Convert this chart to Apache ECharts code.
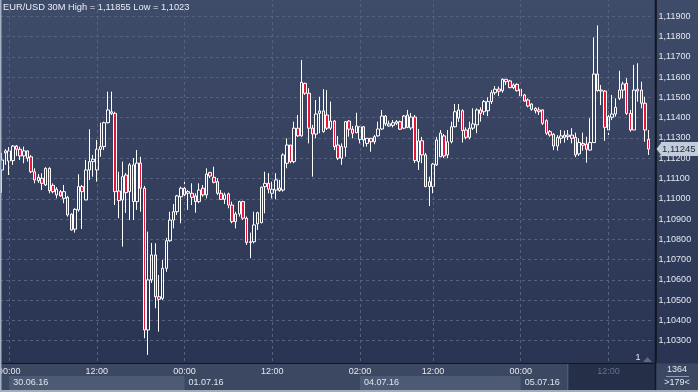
<!DOCTYPE html>
<html><head><meta charset="utf-8">
<script src="https://cdn.jsdelivr.net/npm/echarts@6/dist/echarts.min.js"></script>
<style>html,body{margin:0;padding:0;background:#2f3a57;}#c{width:698px;height:392px;}</style>
</head><body><div id="c"></div>
<script>
const symbolName = 'EUR/USD 30M';
// trading sessions: [date, first bar time, number of 30-min bars]
const sessions = [['29.06.16','23:00',2],['30.06.16','00:00',48],['01.07.16','00:00',48],['04.07.16','02:00',44],['05.07.16','00:00',37]];
const opens = [1.11142,1.11226,1.11186,1.11188,1.11260,1.11244,1.11211,1.11236,1.11207,1.11133,
1.11089,1.11101,1.11068,1.11150,1.11066,1.11019,1.11035,1.11002,1.11007,1.10924,
1.10850,1.10945,1.11060,1.10994,1.11142,1.11183,1.11142,1.11244,1.11257,1.11375,
1.11429,1.11421,1.11038,1.10994,1.11117,1.11035,1.10986,1.10986,1.11176,1.11052,
1.10353,1.10600,1.10723,1.10517,1.10509,1.10657,1.10793,1.10895,1.10936,1.11010,
1.11052,1.11027,1.11027,1.11014,1.10986,1.11052,1.11019,1.11129,1.11106,1.11084,
1.11027,1.10997,1.11024,1.10969,1.10887,1.10925,1.10986,1.10904,1.10784,1.10788,
1.10876,1.10882,1.11060,1.11076,1.11027,1.11043,1.11053,1.11043,1.11175,1.11265,
1.11183,1.11348,1.11310,1.11569,1.11520,1.11348,1.11319,1.11433,1.11331,1.11413,
1.11348,1.11383,1.11265,1.11200,1.11254,1.11383,1.11343,1.11326,1.11293,1.11355,
1.11273,1.11298,1.11281,1.11310,1.11344,1.11408,1.11359,1.11362,1.11372,1.11380,
1.11348,1.11413,1.11349,1.11403,1.11183,1.11286,1.11216,1.11060,1.11060,1.11167,
1.11207,1.11310,1.11216,1.11281,1.11355,1.11398,1.11434,1.11339,1.11303,1.11348,
1.11364,1.11438,1.11429,1.11434,1.11479,1.11523,1.11541,1.11533,1.11589,1.11581,
1.11548,1.11564,1.11540,1.11512,1.11487,1.11467,1.11446,1.11438,1.11438,1.11385,
1.11331,1.11318,1.11260,1.11298,1.11303,1.11306,1.11314,1.11303,1.11221,1.11273,
1.11270,1.11240,1.11277,1.11615,1.11531,1.11531,1.11339,1.11402,1.11418,1.11495,
1.11536,1.11569,1.11421,1.11339,1.11531,1.11536,1.11471,1.11293];
const closes = [1.11191,1.11236,1.11236,1.11260,1.11244,1.11211,1.11236,1.11200,1.11133,1.11093,
1.11106,1.11076,1.11150,1.11040,1.11035,1.11047,1.11014,1.11035,1.10920,1.10846,
1.10948,1.11060,1.11035,1.11142,1.11183,1.11195,1.11244,1.11257,1.11375,1.11438,
1.11421,1.11035,1.10991,1.11109,1.11030,1.11167,1.11167,1.11176,1.11052,1.10353,
1.10600,1.10723,1.10517,1.10504,1.10657,1.10793,1.10895,1.10936,1.11014,1.11052,
1.11019,1.11035,1.11007,1.10986,1.11043,1.11019,1.11122,1.11112,1.11081,1.11027,
1.10997,1.11019,1.10969,1.10887,1.10925,1.10986,1.10904,1.10784,1.10788,1.10871,
1.10931,1.11057,1.11076,1.11047,1.11047,1.11093,1.11040,1.11216,1.11265,1.11183,
1.11348,1.11310,1.11574,1.11520,1.11348,1.11319,1.11418,1.11421,1.11433,1.11348,
1.11383,1.11257,1.11200,1.11257,1.11380,1.11343,1.11323,1.11359,1.11355,1.11290,
1.11298,1.11281,1.11306,1.11344,1.11408,1.11369,1.11369,1.11375,1.11380,1.11343,
1.11408,1.11352,1.11403,1.11188,1.11285,1.11216,1.11060,1.11084,1.11171,1.11290,
1.11324,1.11211,1.11281,1.11355,1.11429,1.11438,1.11336,1.11303,1.11348,1.11369,
1.11438,1.11421,1.11479,1.11479,1.11523,1.11540,1.11530,1.11589,1.11577,1.11548,
1.11561,1.11533,1.11507,1.11482,1.11457,1.11441,1.11434,1.11429,1.11372,1.11323,
1.11314,1.11260,1.11303,1.11310,1.11314,1.11314,1.11298,1.11216,1.11277,1.11264,
1.11244,1.11277,1.11615,1.11533,1.11536,1.11352,1.11405,1.11418,1.11451,1.11536,
1.11566,1.11421,1.11339,1.11536,1.11540,1.11471,1.11339,1.11245];
const highs = [1.11226,1.11245,1.11255,1.11265,1.11265,1.11257,1.11257,1.11236,1.11216,1.11150,
1.11122,1.11126,1.11155,1.11155,1.11076,1.11057,1.11043,1.11068,1.11014,1.10928,
1.10953,1.11121,1.11068,1.11191,1.11343,1.11216,1.11290,1.11375,1.11380,1.11528,
1.11528,1.11429,1.11133,1.11183,1.11127,1.11176,1.11201,1.11240,1.11207,1.11063,
1.10838,1.10782,1.10781,1.10624,1.10698,1.10807,1.10936,1.10974,1.11019,1.11060,
1.11084,1.11043,1.11076,1.11027,1.11076,1.11068,1.11150,1.11133,1.11158,1.11101,
1.11043,1.11030,1.11030,1.10986,1.10936,1.10990,1.10990,1.10912,1.10833,1.10936,
1.10936,1.11060,1.11133,1.11126,1.11084,1.11126,1.11093,1.11224,1.11298,1.11265,
1.11380,1.11413,1.11684,1.11572,1.11545,1.11364,1.11487,1.11503,1.11540,1.11536,
1.11479,1.11388,1.11310,1.11273,1.11383,1.11388,1.11359,1.11424,1.11355,1.11359,
1.11298,1.11298,1.11314,1.11380,1.11438,1.11413,1.11385,1.11388,1.11388,1.11385,
1.11413,1.11438,1.11423,1.11413,1.11344,1.11305,1.11226,1.11109,1.11176,1.11305,
1.11339,1.11319,1.11339,1.11380,1.11467,1.11467,1.11441,1.11352,1.11380,1.11446,
1.11446,1.11451,1.11487,1.11500,1.11536,1.11556,1.11553,1.11594,1.11589,1.11586,
1.11569,1.11569,1.11545,1.11517,1.11495,1.11471,1.11451,1.11451,1.11441,1.11392,
1.11339,1.11323,1.11314,1.11339,1.11336,1.11339,1.11348,1.11326,1.11298,1.11326,
1.11306,1.11397,1.11796,1.11855,1.11561,1.11536,1.11429,1.11512,1.11495,1.11631,
1.11577,1.11595,1.11438,1.11660,1.11668,1.11577,1.11503,1.11339];
const lows = [1.11029,1.11167,1.11117,1.11167,1.11211,1.11191,1.11175,1.11183,1.11126,1.11076,
1.11078,1.11043,1.11063,1.11027,1.11027,1.11002,1.11010,1.10978,1.10912,1.10843,
1.10833,1.10936,1.10851,1.10994,1.11093,1.11109,1.11084,1.11207,1.11240,1.11372,
1.11413,1.10969,1.10904,1.10764,1.10930,1.10895,1.10895,1.10945,1.10936,1.10312,
1.10230,1.10585,1.10460,1.10345,1.10501,1.10640,1.10788,1.10854,1.10920,1.10879,
1.11010,1.10945,1.10969,1.10931,1.10978,1.11010,1.11002,1.11101,1.11076,1.11019,
1.10994,1.10974,1.10953,1.10879,1.10854,1.10912,1.10895,1.10772,1.10707,1.10780,
1.10846,1.10879,1.10928,1.11027,1.11002,1.10997,1.11035,1.11035,1.11150,1.11175,
1.11175,1.11306,1.11306,1.11512,1.11273,1.11109,1.11298,1.11323,1.11326,1.11339,
1.11339,1.11240,1.11191,1.11167,1.11207,1.11306,1.11298,1.11323,1.11273,1.11257,
1.11257,1.11232,1.11269,1.11306,1.11339,1.11359,1.11355,1.11352,1.11364,1.11339,
1.11343,1.11348,1.11339,1.11176,1.11142,1.11175,1.11057,1.10964,1.11027,1.11162,
1.11206,1.11201,1.11200,1.11273,1.11352,1.11379,1.11277,1.11293,1.11293,1.11339,
1.11323,1.11380,1.11413,1.11408,1.11467,1.11512,1.11507,1.11523,1.11561,1.11545,
1.11540,1.11528,1.11500,1.11479,1.11451,1.11434,1.11421,1.11413,1.11364,1.11314,
1.11306,1.11240,1.11237,1.11273,1.11277,1.11290,1.11273,1.11205,1.11211,1.11237,
1.11178,1.11237,1.11277,1.11528,1.11462,1.11286,1.11314,1.11388,1.11405,1.11487,
1.11495,1.11413,1.11331,1.11339,1.11479,1.11446,1.11281,1.11216];
const tickTimes = ['30.06.16 00:00','30.06.16 12:00','01.07.16 00:00','01.07.16 12:00','04.07.16 02:00','04.07.16 12:00','05.07.16 00:00','05.07.16 12:00'];
const dateStarts = ['30.06.16 00:00','01.07.16 00:00','04.07.16 02:00','05.07.16 00:00'];
const shadedDates = ['30.06.16 00:00','04.07.16 02:00'];
const highlightFrom = '05.07.16 06:30';
const totalBars = '1364';
const markerText = '1';

const categories = [];
sessions.forEach(([d, start, n]) => {
  const p = start.split(':').map(Number);
  const m0 = p[0] * 60 + p[1];
  for (let k = 0; k < n; k++) {
    const t = m0 + 30 * k;
    categories.push(d + ' ' + String(Math.floor(t / 60)).padStart(2, '0') + ':' + String(t % 60).padStart(2, '0'));
  }
});
const ohlc = opens.map((o, i) => [o, closes[i], lows[i], highs[i]]);
const lastClose = closes[closes.length - 1];
const fmt = v => v.toFixed(5).replace('.', ',');
const maxHigh = Math.max(...highs), minLow = Math.min(...lows);
const titleText = symbolName + ' High = ' + String(maxHigh).replace('.', ',') + ' Low = ' + String(minLow).replace('.', ',');
const tickSet = new Set(tickTimes), dateSet = new Set(dateStarts);
const hiIdx = categories.indexOf(highlightFrom);

const FONT = 'Liberation Sans';
const chart = echarts.init(document.getElementById('c'), null, {renderer: 'canvas'});
const gridLine = {color: '#55627e', type: [3, 3], width: 1};
chart.setOption({
  animation: false,
  backgroundColor: {type: 'linear', x: 0, y: 0, x2: 0, y2: 1, colorStops: [{offset: 0, color: '#3e4b69'}, {offset: 1, color: '#283250'}]},
  textStyle: {fontFamily: FONT},
  title: {text: titleText, left: 3, top: 3, padding: 0, textStyle: {fontSize: 9.3, fontWeight: 'normal', color: '#e8edf5', fontFamily: FONT}},
  grid: {left: 0, right: 43.9, top: 0, bottom: 31, outerBoundsMode: 'none', containLabel: false},
  xAxis: [
    {type: 'category', data: categories, boundaryGap: true, offset: 2,
     axisLine: {show: true, lineStyle: {color: '#11161f', width: 1}}, axisTick: {show: false}, splitLine: {show: false},
     axisLabel: {interval: (i, v) => tickSet.has(v), formatter: v => v.split(' ')[1], fontSize: 9, margin: 4,
       color: (v) => categories.indexOf(v) >= hiIdx ? '#66728c' : '#e2e8f0', fontFamily: FONT}},
    {type: 'category', data: categories, boundaryGap: true, position: 'bottom', offset: 2,
     axisLine: {show: false}, axisTick: {show: false}, splitLine: {show: false},
     axisLabel: {interval: (i, v) => dateSet.has(v), formatter: v => v.split(' ')[0], fontSize: 9, margin: 15,
       align: 'left', padding: [0, 0, 0, 4], color: '#dfe5ee', fontFamily: FONT}}
  ],
  yAxis: {type: 'value', position: 'right', min: 1.102, max: 1.1198, interval: 0.001, offset: 1.5,
    axisLine: {show: true, lineStyle: {color: '#11161f', width: 1.5}}, axisTick: {show: false},
    splitLine: {show: true, lineStyle: gridLine, showMinLine: false, showMaxLine: false},
    axisLabel: {formatter: fmt, fontSize: 9, margin: 3, color: '#e2e8f0', showMinLabel: false, showMaxLabel: false, fontFamily: FONT}},
  series: [{
    type: 'candlestick', data: ohlc, barWidth: 3, silent: true,
    itemStyle: {color: 'rgba(0,0,0,0)', color0: '#e3173b', borderColor: '#ffffff', borderColor0: '#ffffff', borderWidth: 1},
    markLine: {silent: true, symbol: 'none', animation: false,
      data: tickTimes.map(t => ({xAxis: t, lineStyle: gridLine, label: {show: false}}))}
  }]
});

const xc = c => chart.convertToPixel({xAxisIndex: 0}, c);
const yLast = chart.convertToPixel({yAxisIndex: 0}, lastClose);
const bandTop = 363.5, bandBot = 390;
const rightX = 655.5;
const gfx = [
  {type: 'rect', shape: {x: 0, y: bandTop, width: 698, height: bandBot - bandTop}, style: {fill: '#3c4862'}, z: -10, silent: true}
];
shadedDates.forEach(d => {
  const i = dateStarts.indexOf(d);
  const x0 = xc(d);
  const x1 = i + 1 < dateStarts.length ? xc(dateStarts[i + 1]) : rightX;
  gfx.push({type: 'rect', shape: {x: x0, y: 376, width: x1 - x0, height: bandBot - 376}, style: {fill: '#4d5a74'}, z: -9, silent: true});
});
const hx = xc(highlightFrom);
gfx.push({type: 'rect', shape: {x: hx, y: bandTop, width: rightX - hx, height: bandBot - bandTop}, style: {fill: '#252f47'}, z: -9, silent: true});
gfx.push({type: 'rect', shape: {x: hx - 1, y: bandTop, width: 1, height: bandBot - bandTop}, style: {fill: '#55617a'}, z: -8, silent: true});
gfx.push({type: 'line', shape: {x1: rightX, y1: 0, x2: rightX, y2: 392}, style: {stroke: '#11161f', lineWidth: 1.5}, z: 20, silent: true});
gfx.push({type: 'rect', shape: {x: 0, y: 0, width: 1.5, height: 392}, style: {fill: '#a4b0c4'}, z: 20, silent: true});
gfx.push({type: 'rect', shape: {x: 0, y: 390, width: 698, height: 2}, style: {fill: '#a4adbb'}, z: 20, silent: true});
gfx.push({type: 'text', style: {text: totalBars, x: 677, y: 370, align: 'center', verticalAlign: 'middle', fill: '#e2e8f0', font: '9px ' + FONT}, z: 20, silent: true});
gfx.push({type: 'line', shape: {x1: 666, y1: 376.5, x2: 689, y2: 376.5}, style: {stroke: '#8e9ab0', lineWidth: 1}, z: 20, silent: true});
gfx.push({type: 'text', style: {text: '>' + categories.length + '<', x: 677, y: 382.5, align: 'center', verticalAlign: 'middle', fill: '#e2e8f0', font: '9px ' + FONT}, z: 20, silent: true});
gfx.push({type: 'text', style: {text: markerText, x: 638, y: 357.5, align: 'center', verticalAlign: 'middle', fill: '#e2e8f0', font: '9px ' + FONT}, z: 20, silent: true});
gfx.push({type: 'polygon', shape: {points: [[643, 362], [652, 362], [647.5, 357]]}, style: {fill: '#5d6a84'}, z: 20, silent: true});
// current price marker
gfx.push({type: 'polygon', shape: {points: [[656.5, yLast], [661, yLast - 6], [661, yLast + 6]]}, style: {fill: '#c3ccd9'}, z: 21, silent: true});
gfx.push({type: 'text', style: {text: fmt(lastClose), x: 661, y: yLast, align: 'left', verticalAlign: 'middle',
  backgroundColor: '#c3ccd9', padding: [2, 3, 2, 1], fill: '#1b2540', font: '9.5px ' + FONT}, z: 21, silent: true});
chart.setOption({graphic: {elements: gfx}});
</script>
</body></html>
